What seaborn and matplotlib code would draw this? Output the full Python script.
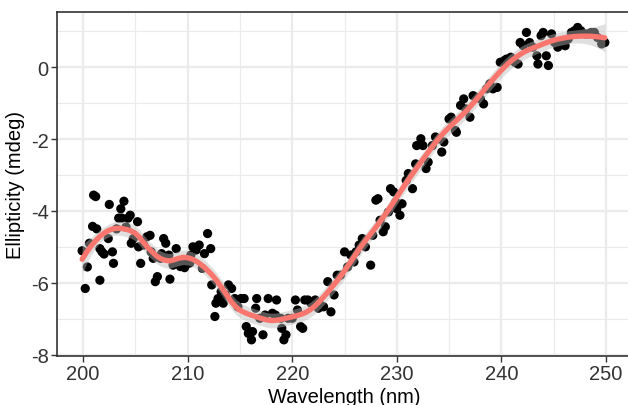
import numpy as np
import pandas as pd
import matplotlib
matplotlib.use("Agg")
import matplotlib.pyplot as plt
import seaborn as sns

# Measured CD spectrum (wavelength in nm, ellipticity in mdeg)
wavelength = [
    199.9, 200.2, 200.4, 200.6, 200.9, 201.0, 201.2, 201.3, 201.6, 201.6,
    201.8, 202.0, 202.4, 202.5, 202.8, 202.9, 203.2, 203.4, 203.6, 203.7,
    203.9, 204.1, 204.3, 204.5, 204.6, 204.8, 205.2, 205.3, 205.5, 205.8,
    206.1, 206.4, 206.5, 206.7, 206.9, 207.1, 207.4, 207.5, 207.7, 207.9,
    208.2, 208.3, 208.6, 208.9, 209.1, 209.3, 209.5, 209.7, 209.8, 210.0,
    210.2, 210.3, 210.5, 210.8, 211.1, 211.4, 211.6, 211.9, 212.2, 212.3,
    212.6, 212.7, 212.9, 213.2, 213.4, 213.6, 213.9, 214.2, 214.5, 214.8,
    215.1, 215.4, 215.6, 215.8, 216.1, 216.2, 216.5, 216.6, 216.9, 217.2,
    217.4, 217.7, 218.1, 218.4, 218.5, 218.9, 219.0, 219.2, 219.4, 219.6,
    220.0, 220.3, 220.5, 220.8, 221.0, 221.2, 221.5, 221.8, 222.2, 222.5,
    222.7, 223.0, 223.4, 223.7, 224.0, 224.3, 224.6, 225.0, 225.3, 225.6,
    225.9, 226.1, 226.4, 226.7, 227.0, 227.5, 227.7, 228.0, 228.2, 228.4,
    228.7, 228.9, 229.2, 229.4, 229.7, 229.9, 230.0, 230.3, 230.5, 230.9,
    231.1, 231.5, 231.8, 231.9, 232.3, 232.5, 232.8, 233.0, 233.4, 233.7,
    234.0, 234.3, 234.5, 235.0, 235.2, 235.6, 235.7, 236.1, 236.4, 236.6,
    237.0, 237.3, 237.5, 238.0, 238.3, 238.6, 238.9, 239.2, 239.6, 239.9,
    240.3, 240.5, 240.9, 241.3, 241.6, 241.8, 242.1, 242.4, 242.7, 243.0,
    243.4, 243.5, 243.8, 244.0, 244.3, 244.5, 244.8, 245.1, 245.4, 245.7,
    246.1, 246.4, 246.7, 247.0, 247.3, 247.6, 248.0, 248.3, 248.6, 248.9,
    249.2, 249.6, 249.9,
]
ellipticity = [
    -5.11, -6.16, -5.56, -4.90, -4.43, -3.56, -3.60, -4.50, -5.93, -5.05,
    -5.14, -5.20, -4.77, -3.82, -5.14, -5.46, -4.50, -4.20, -3.94, -4.20,
    -3.73, -4.45, -4.20, -4.12, -4.90, -4.77, -4.30, -5.00, -5.46, -4.95,
    -4.72, -4.68, -5.14, -5.32, -5.97, -5.83, -5.32, -5.19, -4.77, -4.90,
    -5.23, -5.90, -5.51, -5.05, -5.42, -5.55, -5.51, -5.58, -5.51, -5.37,
    -5.45, -5.23, -5.00, -5.09, -4.95, -5.60, -5.19, -4.63, -5.05, -6.06,
    -6.94, -6.57, -6.44, -6.25, -6.57, -6.34, -6.06, -6.16, -6.44, -6.67,
    -6.44, -6.44, -7.22, -7.41, -7.59, -7.36, -6.71, -6.44, -6.99, -7.45,
    -6.90, -6.44, -6.85, -6.90, -6.48, -6.99, -7.27, -7.59, -7.45, -6.99,
    -6.99, -6.48, -6.76, -7.22, -7.27, -6.48, -6.48, -6.57, -6.48, -6.71,
    -6.62, -6.67, -5.97, -6.81, -6.34, -5.79, -5.79, -5.14, -5.56, -5.23,
    -5.42, -5.14, -4.95, -4.77, -5.00, -5.51, -4.68, -3.70, -3.66, -4.26,
    -4.58, -4.44, -4.03, -3.38, -3.47, -3.75, -3.94, -4.12, -3.80, -3.15,
    -2.96, -3.38, -2.69, -2.18, -1.99, -2.18, -2.82, -2.64, -2.18, -1.94,
    -1.99, -2.36, -2.08, -1.44, -1.39, -1.76, -1.81, -1.06, -0.88, -1.16,
    -1.39, -0.79, -0.83, -0.88, -1.02, -0.60, -0.46, -0.60, -0.56, 0.14,
    0.19, 0.23, 0.28, 0.14, 0.09, 0.69, 0.60, 0.97, 0.69, 0.56,
    0.32, 0.09, 0.88, 0.97, 0.32, 0.05, 0.93, 0.69, 0.56, 0.65,
    0.60, 0.79, 0.97, 1.02, 1.11, 1.02, 0.93, 0.93, 0.97, 0.97,
    0.83, 0.65, 0.69,
]

x_ticks = [200, 210, 220, 230, 240, 250]
y_ticks = [-8, -6, -4, -2, 0]

df = pd.DataFrame({"Wavelength": wavelength, "Ellipticity": ellipticity})


def _local_weights(x, x0, k):
    d = np.abs(x - x0)
    h = np.sort(d)[k - 1]
    w = np.clip(1 - (d / h) ** 3, 0, None) ** 3
    X = np.column_stack([np.ones(len(x)), x - x0, (x - x0) ** 2])
    XtW = X.T * w
    return np.linalg.solve(XtW @ X, XtW)[0]


def loess(x, y, xs, span=0.3):
    x = np.asarray(x, float)
    y = np.asarray(y, float)
    n = len(x)
    k = int(np.ceil(span * n))
    lvecs = [_local_weights(x, x0, k) for x0 in xs]
    fits = np.array([L @ y for L in lvecs])
    fit_obs = np.array([_local_weights(x, x0, k) @ y for x0 in x])
    resid = y - fit_obs
    sigma = np.sqrt(np.sum(resid ** 2) / (n - 3 * n / k))
    se = np.array([sigma * np.sqrt(np.sum(L ** 2)) for L in lvecs])
    return fits, se


xs = np.linspace(min(wavelength), max(wavelength), 120)
fit, se = loess(wavelength, ellipticity, xs, span=0.23)
smooth = pd.DataFrame({"Wavelength": xs, "fit": fit})

sns.set_theme(style="white")
plt.rcParams["font.family"] = ["Liberation Sans", "DejaVu Sans"]

fig = plt.figure(figsize=(6.28, 4.06), dpi=100)
ax = fig.add_axes([0.0908, 0.1207, 0.9156, 0.8473])

grid_c = "#EBEBEB"
for v in [205, 215, 225, 235, 245]:
    ax.axvline(v, color=grid_c, lw=0.8, zorder=0)
for v in [-7, -5, -3, -1, 1]:
    ax.axhline(v, color=grid_c, lw=0.8, zorder=0)
for v in x_ticks:
    ax.axvline(v, color=grid_c, lw=1.6, zorder=0)
for v in y_ticks:
    ax.axhline(v, color=grid_c, lw=1.6, zorder=0)

sns.scatterplot(data=df, x="Wavelength", y="Ellipticity", color="black",
                s=44, edgecolor="none", ax=ax, zorder=2)
ax.fill_between(xs, fit - 1.97 * se, fit + 1.97 * se, color="#BBBBBB",
                alpha=0.45, lw=0, zorder=3)
sns.lineplot(data=smooth, x="Wavelength", y="fit", color="#F8766D", lw=3.8,
             ax=ax, zorder=4)

ax.set_xlim(197.5, 252.5)
ax.set_ylim(-8.04, 1.54)
ax.set_xticks(x_ticks)
ax.set_yticks(y_ticks)
ax.set_xticklabels([str(v) for v in x_ticks], fontsize=14.5, color="#333333")
ax.set_yticklabels([str(v) for v in y_ticks], fontsize=14.5, color="#333333")
ax.tick_params(axis="both", length=4, width=1, color="#333333", pad=2,
               left=True, bottom=True)
ax.set_xlabel("Wavelength (nm)", fontsize=14.5, color="black", labelpad=3)
ax.set_ylabel("Ellipticity (mdeg)", fontsize=14.5, color="black", labelpad=4)
for s in ax.spines.values():
    s.set_color("#333333")
    s.set_linewidth(1.2)

fig.savefig("out.png", dpi=100)
